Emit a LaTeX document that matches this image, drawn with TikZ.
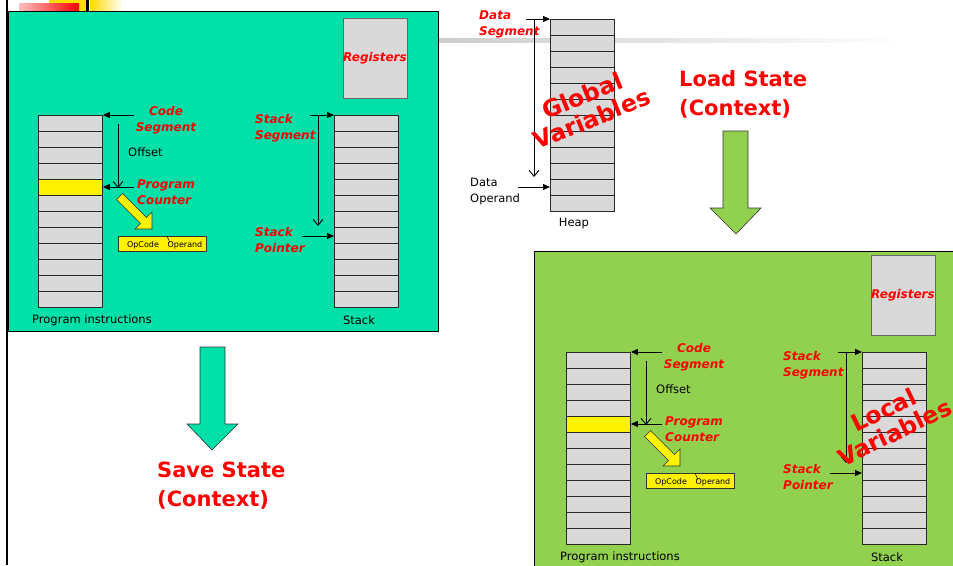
\documentclass[tikz,border=0pt]{standalone}
\usepackage{fontspec}
\setmainfont{DejaVu Sans}
\usetikzlibrary{arrows.meta}
\definecolor{tealbox}{RGB}{0,224,168}
\definecolor{lgreen}{RGB}{146,208,80}
\definecolor{cellgray}{RGB}{217,217,217}
\definecolor{ured}{RGB}{255,0,0}
\definecolor{linegray}{RGB}{40,40,40}
\tikzset{
 cellcol/.style={draw=linegray, fill=cellgray, line width=0.9pt, inner sep=0pt, minimum width=64pt, minimum height=192pt, anchor=north west},
 cellline/.style={draw=linegray, line width=0.9pt},
 regbox/.style={draw=black!60, fill=cellgray, line width=0.9pt, minimum width=64pt, minimum height=80pt, inner sep=0pt,
   text=ured, font=\fontsize{12}{16}\selectfont\bfseries\itshape},
 redlab/.style={text=ured, font=\fontsize{12}{16}\selectfont\bfseries\itshape, align=left, inner sep=0pt, anchor=west},
 blk/.style={font=\fontsize{11.5}{16}\selectfont, inner sep=0pt, align=left},
 tiny/.style={font=\fontsize{8}{10}\selectfont, inner sep=0pt},
 ptr/.style={-{Triangle[length=7pt,width=6pt]}, line width=0.9pt},
 offs/.style={-{Straight Barb[length=6pt,width=10pt]}, line width=0.9pt},
 big/.style={text=ured, font=\fontsize{21}{29}\selectfont\bfseries, inner sep=0pt, align=left},
 bigrot/.style={text=ured, font=\fontsize{23.5}{25}\selectfont\bfseries, inner sep=0pt, align=center},
 blockarrow/.style={draw=black!80, line width=0.6pt},
}
\newcommand{\memcol}[3]{%
 \node[cellcol] (#1) at (#2,#3) {};
 \foreach \i in {1,...,11} \draw[cellline] ([yshift=-16*\i pt]#1.north west) -- ([yshift=-16*\i pt]#1.north east);
}
\newcommand{\panel}[3]{%
\begin{scope}[shift={(#2,#3)}]
 \node[regbox] (reg#1) at (375,58) {Registers};
 \memcol{prog#1}{38}{115}
 \draw[cellline, fill=yellow] ([yshift=-64pt]prog#1.north west) rectangle ([yshift=-80pt]prog#1.north east);
 \memcol{stack#1}{334}{115}
 \node[blk] (proglab#1) at (92,320) {Program instructions};
 \node[blk] (stacklab#1) at (359,320) {Stack};
 % code segment
 \coordinate (cs#1) at (134,115);
 \draw[ptr] (cs#1) -- (prog#1.north east);
 \node[redlab, align=center, anchor=center] (cslab#1) at (166,120) {Code\\Segment};
 % offset
 \coordinate (offa#1) at (118,124);
 \coordinate (offb#1) at (118,188);
 \draw[offs] (offa#1) -- (offb#1);
 \node[blk, anchor=west] (offlab#1) at (128,152) {Offset};
 % program counter
 \coordinate (pcs#1) at (134,187);
 \draw[ptr] (pcs#1) -- ([yshift=-72pt]prog#1.north east);
 \node[redlab] (pclab#1) at (137,192) {Program\\Counter};
 % yellow block arrow
 \draw[blockarrow, fill=yellow] (122.5,193.5) -- (146.5,217.5) -- (152,212) -- (152,229) -- (135,229) -- (140.5,223.5) -- (116.5,199.5) -- cycle;
 % opcode box
 \node[draw=black!80, fill=yellow, line width=0.8pt, minimum width=88pt, minimum height=15pt, inner sep=0pt] (op#1) at (162,243.5) {};
 \node[tiny] (opc#1) at (143,245) {OpCode};
 \node[tiny] (opd#1) at (185,245) {Operand};
 \draw[line width=0.5pt] (167,236) -- (170,243);
 % stack segment
 \coordinate (ss#1) at (310,115);
 \draw[ptr] (ss#1) -- (stack#1.north west);
 \draw[offs] (318,115) -- (318,226);
 \node[redlab] (sslab#1) at (255,128) {Stack\\Segment};
 % stack pointer
 \coordinate (sp#1) at (302,236);
 \draw[ptr] (sp#1) -- ([yshift=-121pt]stack#1.north west);
 \node[redlab] (splab#1) at (255,240) {Stack\\Pointer};
\end{scope}}
\begin{document}
\begin{tikzpicture}[x=1pt,y=-1pt]
\useasboundingbox (0,0) rectangle (953,565);
\clip (0,0) rectangle (953,565);
\fill[white] (0,0) rectangle (953,565);
% template decorations
\fill[left color=white!60!gray, right color=white] (438,38) rectangle (905,42);
\fill[yellow!80!orange] (49,0) rectangle (86,11);
\fill[left color=red!25, right color=red] (19,3) rectangle (79,11);
\fill[black] (86,0) rectangle (89,11);
\fill[left color=yellow!70!orange, right color=white] (90,0) rectangle (123,11);
% panels
\draw[fill=tealbox, line width=0.8pt] (8,11) rectangle (438,331);
\draw[fill=lgreen, line width=0.8pt] (534,251) rectangle (970,580);
\draw[line width=2pt] (7,0) -- (7,565);
\panel{A}{0}{0}
\panel{B}{528}{237}
% heap
\memcol{heap}{550}{19}
\node[blk] (heaplab) at (574,224) {Heap};
\coordinate (ds) at (526,19);
\draw[ptr] (ds) -- (heap.north west);
\draw[offs] (534,19) -- (534,177);
\node[redlab] (dslab) at (479,24) {Data\\Segment};
\coordinate (dop) at (518,187);
\draw[ptr] (dop) -- ([yshift=-168pt]heap.north west);
\node[blk, anchor=west] (doplab) at (470,192) {Data\\Operand};
\node[bigrot, rotate=22] (gv) at (587,107) {Global\\Variables};
\node[bigrot, rotate=26] (lv) at (889,421) {Local\\Variables};
% load / save
\node[big, anchor=west] (load) at (679,94) {Load State\\(Context)};
\draw[blockarrow, fill=lgreen] (723,131) -- (748,131) -- (748,208) -- (761,208) -- (736,234) -- (710,208) -- (723,208) -- cycle;
\draw[blockarrow, fill=tealbox] (200,347) -- (225,347) -- (225,424) -- (238,424) -- (212,450) -- (187,424) -- (200,424) -- cycle;
\node[big, anchor=west] (save) at (157,486) {Save State\\(Context)};
\end{tikzpicture}
\end{document}
